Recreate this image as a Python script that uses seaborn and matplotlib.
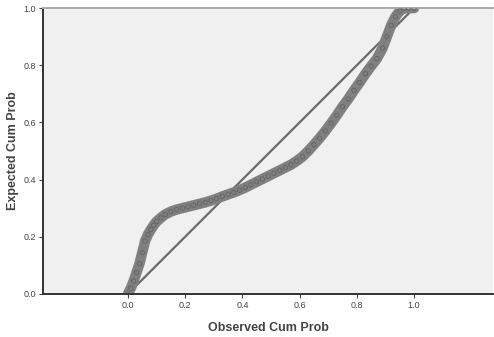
import pandas as pd
import matplotlib.pyplot as plt
import seaborn as sns

# P-P plot points
observed = [0.000, 0.010, 0.020, 0.030, 0.040, 0.050, 0.060, 0.070, 0.080, 0.090,
            0.100, 0.115, 0.130, 0.150, 0.170, 0.190, 0.210, 0.230, 0.250, 0.270,
            0.290, 0.310, 0.330, 0.350, 0.370, 0.390, 0.410, 0.430, 0.450, 0.470,
            0.490, 0.510, 0.530, 0.550, 0.570, 0.590, 0.610, 0.630, 0.650, 0.670,
            0.690, 0.710, 0.730, 0.750, 0.770, 0.790, 0.810, 0.830, 0.850, 0.870,
            0.890, 0.905, 0.920, 0.935, 0.950, 0.965, 0.980, 1.000]
expected = [0.000, 0.020, 0.045, 0.075, 0.105, 0.145, 0.185, 0.208, 0.225, 0.240,
            0.253, 0.266, 0.278, 0.288, 0.295, 0.300, 0.305, 0.310, 0.315, 0.320,
            0.326, 0.333, 0.341, 0.348, 0.355, 0.363, 0.372, 0.382, 0.392, 0.402,
            0.412, 0.422, 0.432, 0.442, 0.452, 0.465, 0.480, 0.500, 0.522, 0.545,
            0.570, 0.597, 0.625, 0.655, 0.682, 0.712, 0.740, 0.770, 0.797, 0.823,
            0.860, 0.900, 0.940, 0.970, 0.990, 1.000, 1.000, 1.000]

# reference diagonal
diag = [0.0, 1.0]
ticks = [0.0, 0.2, 0.4, 0.6, 0.8, 1.0]
tick_labels = ['0.0', '0.2', '0.4', '0.6', '0.8', '1.0']

df = pd.DataFrame({'Observed': observed, 'Expected': expected})

sns.set_style("white")
plt.rcParams['font.family'] = ['Liberation Sans', 'DejaVu Sans']

fig = plt.figure(figsize=(4.94, 3.37), dpi=100)
ax = fig.add_axes([0.087, 0.128, 0.911, 0.848])
ax.set_facecolor('#f0f0f0')

sns.lineplot(x=diag, y=diag, ax=ax, color='#6a6a6a', linewidth=1.6)
sns.lineplot(data=df, x='Observed', y='Expected', ax=ax, sort=False,
             color='#808080', linewidth=7.5, solid_capstyle='round')
# small open circles give the band its speckled look
sns.scatterplot(data=df, x='Observed', y='Expected', ax=ax, marker='o',
                facecolor='none', edgecolor='#555555', s=10, linewidth=0.5,
                alpha=0.8, zorder=3)

ax.set_xlim(-0.297, 1.276)
ax.set_ylim(0, 1.0)
ax.set_xticks(ticks)
ax.set_xticklabels(tick_labels)
ax.set_yticks(ticks)
ax.set_yticklabels(tick_labels)
ax.tick_params(axis='both', labelsize=6.5, colors='#444444', length=3, width=0.8,
               direction='out', bottom=True, left=True, pad=2)

for side in ['left', 'bottom']:
    ax.spines[side].set_color('#333333')
    ax.spines[side].set_linewidth(1.4)
ax.spines['top'].set_color('#aaaaaa')
ax.spines['top'].set_linewidth(1.4)
ax.spines['right'].set_visible(False)

ax.set_xlabel('Observed Cum Prob', fontsize=9, color='#444444', fontweight='bold', labelpad=9)
ax.set_ylabel('Expected Cum Prob', fontsize=9, color='#444444', fontweight='bold', labelpad=3)

fig.savefig('out.png', dpi=100)
